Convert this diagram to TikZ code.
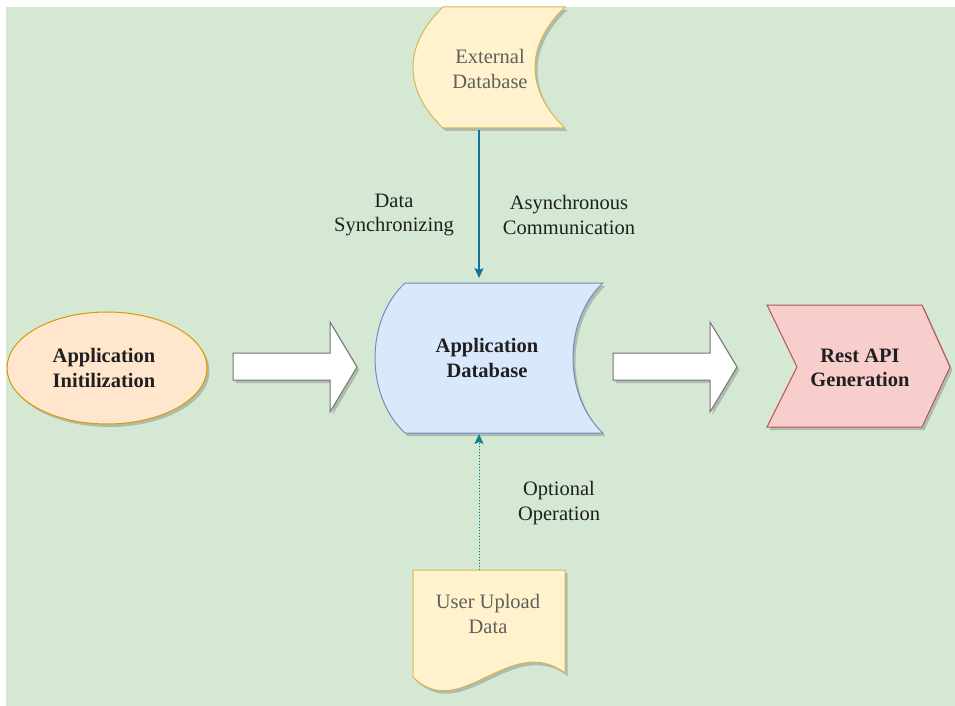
\documentclass[tikz,border=0pt]{standalone}
\usepackage{fontspec}
\setmainfont{Liberation Serif}
\usetikzlibrary{shadows,arrows.meta}
\definecolor{bgc}{HTML}{D5E8D4}
\definecolor{yfill}{HTML}{FFF2CC}
\definecolor{ydraw}{HTML}{D6B656}
\definecolor{bfill}{HTML}{DAE8FC}
\definecolor{bdraw}{HTML}{6C8EBF}
\definecolor{ofill}{HTML}{FFE6CC}
\definecolor{odraw}{HTML}{D79B00}
\definecolor{rfill}{HTML}{F8CECC}
\definecolor{rdraw}{HTML}{B85450}
\definecolor{conblue}{HTML}{10739E}
\definecolor{conteal}{HTML}{0E8088}
\definecolor{graytxt}{HTML}{5F5F5F}
\definecolor{darktxt}{HTML}{1F1F1F}
\begin{document}
\begin{tikzpicture}[x=1pt,y=-1pt,
  shp/.style={line width=1pt, drop shadow={shadow xshift=2.5pt, shadow yshift=-3pt, opacity=0.28, fill=black!70}},
  bigarrow/.style={shp, fill=white, draw=black!55, line width=1pt},
  lbl/.style={font=\fontsize{20.5}{24.5}\selectfont, align=center, inner sep=0pt},
  boldlbl/.style={lbl, font=\fontsize{20.5}{24.5}\selectfont\bfseries, text=darktxt},
  graylbl/.style={lbl, text=graytxt},
  edgelbl/.style={lbl, text=darktxt},
  anchorbox/.style={draw=none, fill=none, inner sep=0pt, outer sep=0pt, minimum width=10pt},
  conn/.style={line width=1.3pt, -{Stealth[length=10pt,width=9pt,inset=2pt]}}
]
\useasboundingbox (0,0) rectangle (955,706);
\fill[white] (0,0) rectangle (955,706);
\fill[bgc] (6,7) rectangle (955,706);

% External Database (stored data)
\filldraw[shp, fill=yfill, draw=ydraw]
  (443,7) -- (565,7) .. controls (525,45) and (525,90) .. (565,128)
  -- (443,128) .. controls (403,90) and (403,45) .. (443,7) -- cycle;
\node[graylbl] (exttext) at (490,69) {External\\Database};
\node[anchorbox, minimum height=123pt] (ext) at (479,68.5) {};

% Application Database (stored data)
\filldraw[shp, fill=bfill, draw=bdraw]
  (405,283) -- (603,283) .. controls (563,320) and (563,396) .. (603,433)
  -- (405,433) .. controls (365,396) and (365,320) .. (405,283) -- cycle;
\node[boldlbl] (dbtext) at (487,358) {Application\\Database};
\node[anchorbox, minimum height=150pt] (db) at (479,358) {};

% Application Initilization (ellipse)
\filldraw[shp, fill=ofill, draw=odraw] (107,368) ellipse [x radius=100, y radius=56];
\node[boldlbl] (init) at (104,368) {Application\\Initilization};

% Rest API Generation (step)
\filldraw[shp, fill=rfill, draw=rdraw]
  (767,305) -- (922,305) -- (950,367) -- (922,427) -- (767,427) -- (797,367) -- cycle;
\node[boldlbl] (rest) at (860,368) {Rest API\\Generation};

% User Upload Data (document)
\filldraw[shp, fill=yfill, draw=ydraw]
  (413,570) -- (565,570) -- (565,673) .. controls (510,632) and (460,724) .. (413,677) -- cycle;
\node[graylbl] (uptext) at (488,614) {User Upload\\Data};
\node[anchorbox, minimum height=110pt] (up) at (479,625) {};

% Big white arrows
\filldraw[bigarrow] (233,353) -- (330,353) -- (330,322) -- (357,367) -- (330,412) -- (330,380) -- (233,380) -- cycle;
\filldraw[bigarrow] (613,353) -- (710,353) -- (710,322) -- (737,367) -- (710,412) -- (710,380) -- (613,380) -- cycle;

% Connectors
\draw[conn, draw=conblue, fill=conblue, shorten >=5pt] (ext) -- (db);
\draw[conn, draw=conteal, fill=conteal, line width=1pt, dash pattern=on 1pt off 2pt, shorten >=1pt] (up) -- (db);

% Edge labels
\node[edgelbl] (lsync) at (394,215) {Data\\Synchronizing};
\node[edgelbl] (lasync) at (569,215) {Asynchronous\\Communication};
\node[edgelbl] (lopt) at (559,503) {Optional\\Operation};
\end{tikzpicture}
\end{document}
